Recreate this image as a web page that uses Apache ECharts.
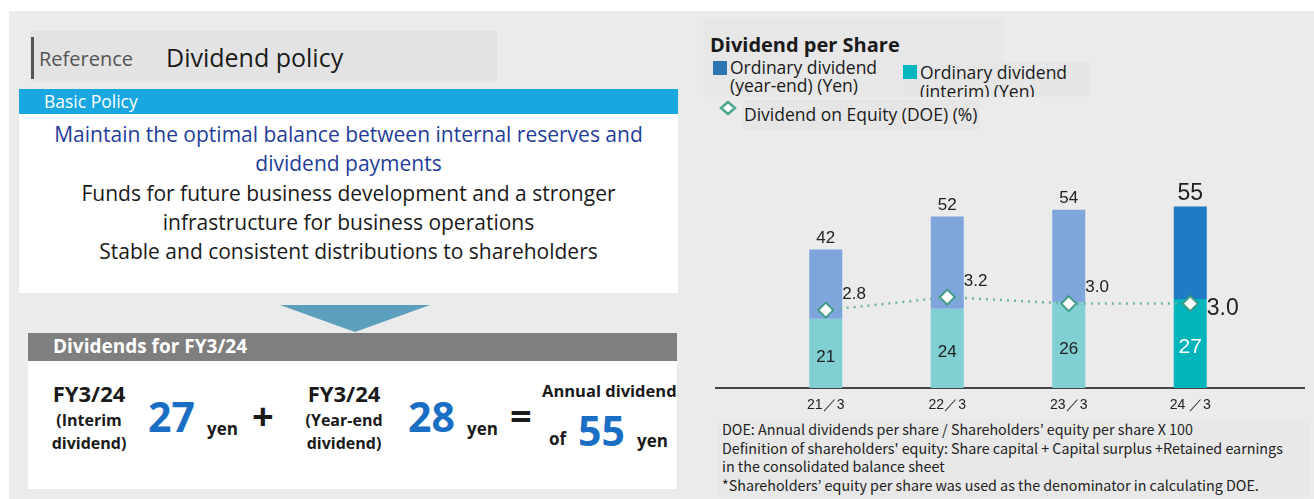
<!DOCTYPE html>
<html>
<head>
<meta charset="utf-8">
<script src="https://cdn.jsdelivr.net/npm/echarts@6/dist/echarts.min.js"></script>
<style>
body{margin:0;width:1314px;height:499px;background:#fff;position:relative;overflow:hidden;font-family:"Open Sans","Noto Sans",sans-serif;}
.abs{position:absolute;}
.bg{left:9px;top:11px;right:0;bottom:0;background:#ebebeb;}
.c{text-align:center;white-space:nowrap;}
.b{font-weight:bold;}
.blue{color:#1a6fc4;}
</style>
</head>
<body>
<div class="abs bg"></div>

<!-- left panel -->
<div class="abs" style="left:30px;top:31px;width:467px;height:51px;background:#e3e3e3;"></div>
<div class="abs" style="left:31px;top:37px;width:3px;height:42px;background:#555;"></div>
<div class="abs" style="left:39px;top:45px;font-size:20px;color:#555;">Reference</div>
<div class="abs" style="left:166px;top:40px;font-size:25px;color:#1a1a1a;">Dividend policy</div>

<div class="abs" style="left:19px;top:89px;width:659px;height:25px;background:#18a7df;"></div>
<div class="abs" style="left:44px;top:89px;font-size:17.5px;color:#fff;">Basic Policy</div>
<div class="abs" style="left:19px;top:114px;width:659px;height:179px;background:#fff;"></div>
<div class="abs c" style="left:19px;top:120px;width:659px;font-size:21px;line-height:29.3px;">
  <div style="color:#1f3d99;">Maintain the optimal balance between internal reserves and</div>
  <div style="color:#1f3d99;">dividend payments</div>
  <div style="color:#1a1a1a;">Funds for future business development and a stronger</div>
  <div style="color:#1a1a1a;">infrastructure for business operations</div>
  <div style="color:#1a1a1a;">Stable and consistent distributions to shareholders</div>
</div>

<svg class="abs" style="left:0;top:0;" width="700" height="499"><polygon points="280,305 430,305 355,332" fill="#5c9fbd"/></svg>

<div class="abs" style="left:28px;top:333px;width:649px;height:28px;background:#7f7f7f;"></div>
<div class="abs b" style="left:53px;top:333px;font-size:19px;color:#fff;">Dividends for FY3/24</div>
<div class="abs" style="left:28px;top:361px;width:649px;height:128px;background:#fff;"></div>

<div class="abs c b" style="left:44px;top:378px;width:90px;font-size:22px;color:#1a1a1a;">FY3/24</div>
<div class="abs c b" style="left:44px;top:409px;width:90px;font-size:16px;line-height:23px;color:#1a1a1a;">(Interim<br>dividend)</div>
<div class="abs b blue" style="left:148px;top:388px;font-size:41px;">27</div>
<div class="abs b" style="left:207px;top:417px;font-size:17px;color:#1a1a1a;">yen</div>
<div class="abs b" style="left:252px;top:389px;font-size:38px;color:#1a1a1a;">+</div>

<div class="abs c b" style="left:299px;top:378px;width:90px;font-size:22px;color:#1a1a1a;">FY3/24</div>
<div class="abs c b" style="left:294px;top:409px;width:100px;font-size:16px;line-height:23px;color:#1a1a1a;">(Year-end<br>dividend)</div>
<div class="abs b blue" style="left:408px;top:388px;font-size:41px;">28</div>
<div class="abs b" style="left:467px;top:417px;font-size:17px;color:#1a1a1a;">yen</div>
<div class="abs b" style="left:510px;top:389px;font-size:38px;color:#1a1a1a;">=</div>

<div class="abs b" style="left:542px;top:379px;font-size:16.5px;color:#1a1a1a;">Annual dividend</div>
<div class="abs b" style="left:549px;top:427px;font-size:17px;color:#1a1a1a;">of</div>
<div class="abs b blue" style="left:578px;top:402px;font-size:41px;">55</div>
<div class="abs b" style="left:637px;top:429px;font-size:17px;color:#1a1a1a;">yen</div>

<!-- right panel -->
<div class="abs" style="left:703px;top:18px;width:300px;height:79px;background:#e7e7e7;"></div>
<div class="abs b" style="left:710px;top:31px;font-size:20px;color:#1a1a1a;">Dividend per Share</div>
<div class="abs" style="left:713px;top:61px;width:14px;height:14px;background:#2e75b6;"></div>
<div class="abs" style="left:730px;top:58px;font-size:17.5px;line-height:18px;color:#1a1a1a;white-space:nowrap;">Ordinary dividend<br>(year-end) (Yen)</div>
<div class="abs" style="left:903px;top:62px;width:188px;height:35px;background:#e6e6e6;overflow:hidden;">
  <div class="abs" style="left:0;top:3px;width:14px;height:14px;background:#00b5bd;"></div>
  <div class="abs" style="left:17px;top:1px;font-size:17.5px;line-height:19px;color:#1a1a1a;white-space:nowrap;">Ordinary dividend<br>(interim) (Yen)</div>
</div>
<div class="abs" style="left:743px;top:100px;width:237px;height:30px;background:#e6e6e6;"></div>
<svg class="abs" style="left:718px;top:100px;" width="22" height="18"><polygon points="10,2 17,8 10,14 3,8" fill="#fff" stroke="#4fa891" stroke-width="2.5"/></svg>
<div class="abs" style="left:744px;top:102px;font-size:17.5px;color:#1a1a1a;white-space:nowrap;">Dividend on Equity (DOE) (%)</div>

<div id="chart" class="abs" style="left:700px;top:130px;width:614px;height:290px;"></div>

<div class="abs" style="left:718px;top:418px;width:592px;height:79px;background:#e8e8e8;"></div>
<div class="abs" style="left:722px;top:420px;font-family:'Noto Sans CJK JP',sans-serif;font-size:14.3px;line-height:18.7px;color:#222;white-space:nowrap;">
DOE: Annual dividends per share / Shareholders’ equity per share X 100<br>
Definition of shareholders' equity: Share capital + Capital surplus +Retained earnings<br>
in the consolidated balance sheet<br>
*Shareholders’ equity per share was used as the denominator in calculating DOE.
</div>

<script>
// data
const categories = ['21／3', '22／3', '23／3', '24 ／3'];
const interimDividend = [21, 24, 26, 27];
const yearEndDividend = [21, 28, 28, 28];
const doeValues = [2.8, 3.2, 3.0, 3.0];

// colours: the latest year is drawn darker
const interimColors = ['#7fcfd3', '#7fcfd3', '#7fcfd3', '#00b4bc'];
const yearEndColors = ['#7fa6dc', '#7fa6dc', '#7fa6dc', '#1f7bc4'];

const lastIdx = categories.length - 1;
const labelFont = '"Liberation Sans", sans-serif';

let myChart = echarts.init(document.getElementById('chart'));

let chartOption = {
	animation: false,
	grid: {left: 65, right: 63, top: 60, bottom: 32},
	xAxis: {
		type: 'category',
		data: categories,
		axisLine: {show: false},
		axisTick: {show: false},
		axisLabel: {color: '#222', fontSize: 14, fontFamily: labelFont, margin: 10}
	},
	yAxis: [
		{type: 'value', min: 0, max: 60, show: false},
		{type: 'value', min: 0.4, max: 6.5, show: false}
	],
	graphic: [{
		type: 'line',
		shape: {x1: 15, y1: 258, x2: 605, y2: 258},
		style: {stroke: '#444', lineWidth: 2},
		z: 1
	}],
	series: [
		{
			name: 'Ordinary dividend (interim) (Yen)',
			type: 'bar',
			stack: 'dps',
			barWidth: 33,
			data: interimDividend.map(function (v, i) {
				return {
					value: v,
					itemStyle: {color: interimColors[i]},
					label: i === lastIdx ? {color: '#fff', fontSize: 21} : {}
				};
			}),
			label: {
				show: true, position: 'inside', offset: [0, 4],
				color: '#222', fontSize: 17, fontFamily: labelFont
			}
		},
		{
			name: 'Ordinary dividend (year-end) (Yen)',
			type: 'bar',
			stack: 'dps',
			barWidth: 33,
			data: yearEndDividend.map(function (v, i) {
				return {
					value: v,
					itemStyle: {color: yearEndColors[i]},
					label: i === lastIdx ? {fontSize: 23, distance: 1} : {}
				};
			}),
			label: {
				show: true, position: 'top', distance: 3,
				color: '#222', fontSize: 17, fontFamily: labelFont,
				formatter: function (p) {
					return interimDividend[p.dataIndex] + yearEndDividend[p.dataIndex];
				}
			}
		},
		{
			name: 'Dividend on Equity (DOE) (%)',
			type: 'line',
			yAxisIndex: 1,
			data: doeValues.map(function (v, i) {
				return {
					value: v,
					label: i === lastIdx ? {fontSize: 23, offset: [2, 5]} : {}
				};
			}),
			symbol: 'diamond',
			symbolSize: [15, 15],
			lineStyle: {color: '#6fb5a2', width: 2.5, type: [2, 5]},
			itemStyle: {color: '#fff', borderColor: '#3e9c83', borderWidth: 2},
			label: {
				show: true, position: 'right', distance: 6, offset: [2, -16],
				color: '#222', fontSize: 17, fontFamily: labelFont,
				formatter: function (p) { return p.value.toFixed(1); }
			},
			z: 5
		}
	]
};
myChart.setOption(chartOption);
</script>
</body>
</html>
